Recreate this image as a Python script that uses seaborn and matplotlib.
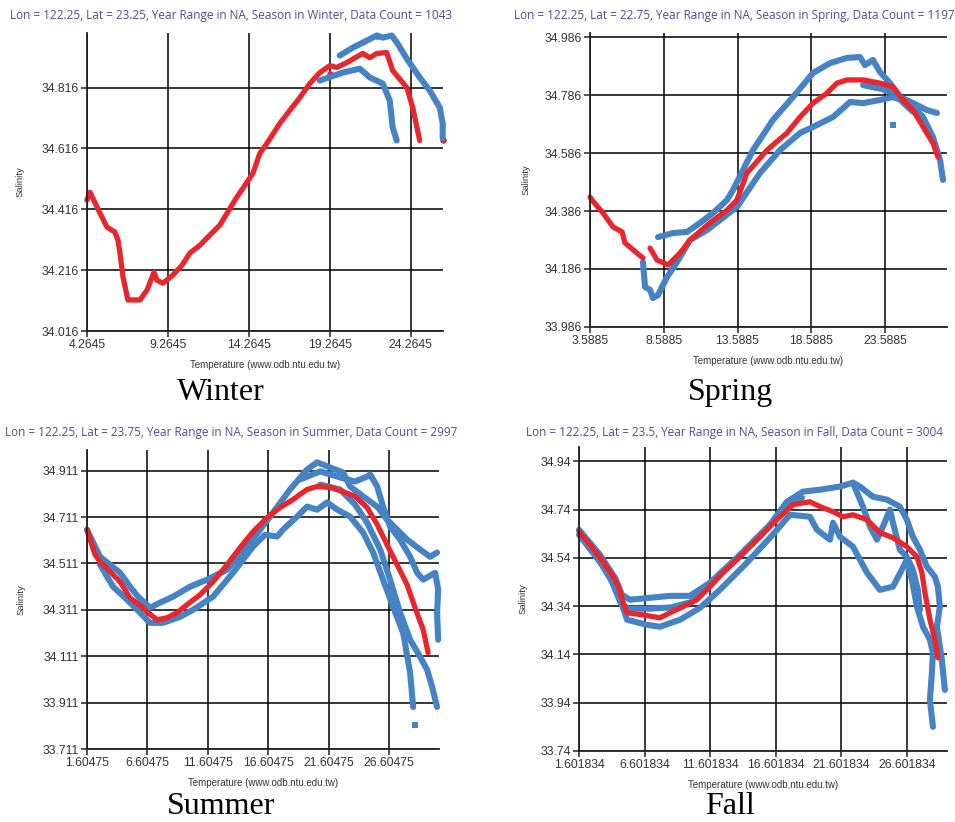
import matplotlib
matplotlib.use('Agg')
import pandas as pd
import matplotlib.pyplot as plt
import seaborn as sns

# Values: (temperature, salinity) pairs along each trace

# Winter
winter_red = [(4.26, 34.446), (4.45, 34.472), (5.07, 34.403), (5.50, 34.357), (5.99, 34.341),
              (6.18, 34.314), (6.30, 34.272), (6.49, 34.193), (6.79, 34.118), (7.53, 34.118),
              (7.97, 34.150), (8.40, 34.209), (8.58, 34.183), (8.95, 34.173), (9.57, 34.200),
              (10.13, 34.232), (10.62, 34.272), (11.24, 34.298), (11.85, 34.331), (12.47, 34.364),
              (13.40, 34.446), (14.51, 34.534), (14.94, 34.600), (15.37, 34.632), (16.17, 34.698),
              (16.79, 34.741), (17.41, 34.783), (18.02, 34.829), (18.64, 34.865), (19.26, 34.888),
              (19.69, 34.882), (20.31, 34.898), (21.29, 34.928), (21.73, 34.914), (22.16, 34.928),
              (22.77, 34.931), (23.14, 34.872), (24.01, 34.816), (24.38, 34.750), (24.81, 34.642)]
winter_red_dots = [(22.16, 34.985), (26.23, 34.642), (19.30, 34.860)]
winter_blue_a = [(18.64, 34.839), (20.06, 34.865), (21.11, 34.878), (21.73, 34.849), (22.53, 34.829),
                 (22.96, 34.773), (23.14, 34.685), (23.39, 34.642)]
winter_blue_b = [(19.87, 34.921), (20.68, 34.947), (21.54, 34.970), (22.16, 34.987), (22.53, 34.980),
                 (23.08, 34.987), (23.45, 34.960), (24.01, 34.911), (24.81, 34.849), (25.43, 34.806),
                 (26.05, 34.750), (26.23, 34.698), (26.23, 34.650)]

# Spring
spring_red_1 = [(3.59, 34.434), (3.72, 34.424), (4.47, 34.379), (5.15, 34.331), (5.76, 34.314),
                (5.96, 34.276), (6.77, 34.241), (7.18, 34.224)]
spring_red_2 = [(7.66, 34.258), (8.13, 34.217), (8.88, 34.200), (9.69, 34.241), (10.37, 34.286),
                (11.72, 34.345), (12.88, 34.389), (13.55, 34.424), (14.23, 34.517), (15.59, 34.596),
                (16.94, 34.655), (17.83, 34.710), (18.71, 34.758), (19.66, 34.793), (20.33, 34.827),
                (21.01, 34.838), (22.10, 34.838), (23.25, 34.827), (24.13, 34.814), (24.81, 34.769),
                (25.49, 34.734), (26.17, 34.676), (26.84, 34.620), (27.18, 34.572)]
spring_blue_a = [(7.18, 34.210), (7.32, 34.124), (7.66, 34.114), (7.86, 34.086), (8.20, 34.096),
                 (8.47, 34.124), (8.81, 34.158), (9.49, 34.210), (10.37, 34.286), (11.52, 34.320),
                 (12.40, 34.355), (13.55, 34.400), (15.11, 34.517), (16.47, 34.596), (17.83, 34.655),
                 (18.71, 34.676), (20.06, 34.710), (21.22, 34.762), (22.10, 34.758), (23.25, 34.769),
                 (24.13, 34.779), (25.28, 34.758), (26.17, 34.710), (26.84, 34.641), (27.32, 34.562),
                 (27.52, 34.493)]
spring_blue_b = [(8.20, 34.296), (9.22, 34.310), (10.17, 34.314), (11.05, 34.345), (11.93, 34.379),
                 (12.88, 34.424), (13.28, 34.458), (14.64, 34.596), (15.99, 34.700), (17.35, 34.779),
                 (18.71, 34.862), (19.86, 34.896), (21.01, 34.914), (21.89, 34.917), (22.23, 34.889),
                 (22.77, 34.907), (23.25, 34.865), (23.93, 34.827), (24.61, 34.779), (25.49, 34.758),
                 (26.44, 34.734), (27.11, 34.724)]
spring_blue_c = [(22.10, 34.820), (23.25, 34.808), (24.13, 34.795), (24.81, 34.760), (25.49, 34.728)]
spring_blue_dots = [(24.13, 34.683)]

# Summer
summer_red = [(1.60, 34.657), (2.27, 34.549), (2.68, 34.519), (3.51, 34.476), (4.34, 34.432),
              (5.16, 34.363), (6.24, 34.320), (6.57, 34.303), (7.40, 34.268), (8.23, 34.277),
              (9.06, 34.299), (9.88, 34.333), (10.96, 34.376), (12.04, 34.432), (13.20, 34.506),
              (14.27, 34.579), (15.35, 34.648), (16.51, 34.709), (17.59, 34.752), (18.66, 34.787),
              (19.82, 34.830), (20.65, 34.843), (21.72, 34.839), (22.80, 34.821), (23.79, 34.800),
              (24.79, 34.752), (25.62, 34.679), (26.44, 34.592), (27.27, 34.506), (28.10, 34.419),
              (28.76, 34.320), (29.43, 34.225), (29.84, 34.126)]
summer_blue_a = [(1.60, 34.657), (2.68, 34.540), (4.34, 34.471), (5.16, 34.411), (5.83, 34.368),
                 (6.82, 34.320), (7.65, 34.342), (8.73, 34.368), (10.13, 34.411), (11.54, 34.441),
                 (13.20, 34.484), (14.85, 34.584), (15.93, 34.657), (16.76, 34.713), (18.41, 34.830),
                 (19.82, 34.916), (20.65, 34.947), (21.72, 34.925), (22.80, 34.903), (23.38, 34.843),
                 (24.46, 34.800), (25.62, 34.756), (26.44, 34.700), (27.27, 34.657), (28.10, 34.614),
                 (29.18, 34.571), (30.00, 34.540), (30.58, 34.558)]
summer_blue_b = [(2.68, 34.506), (3.76, 34.411), (4.92, 34.355), (5.99, 34.299), (6.82, 34.255),
                 (7.90, 34.255), (9.31, 34.281), (10.38, 34.311), (12.04, 34.368), (13.69, 34.471),
                 (15.35, 34.584), (16.34, 34.635), (17.34, 34.627), (17.83, 34.657), (18.99, 34.713),
                 (19.82, 34.756), (20.65, 34.743), (21.48, 34.774), (22.31, 34.743), (23.38, 34.713),
                 (24.46, 34.644), (25.29, 34.558), (26.11, 34.441), (26.94, 34.324), (27.77, 34.212),
                 (28.35, 34.039), (28.60, 33.892)]
summer_blue_c = [(19.24, 34.873), (20.90, 34.908), (22.55, 34.882), (23.79, 34.864), (24.79, 34.886),
                 (25.04, 34.895), (25.62, 34.843), (26.11, 34.756), (26.69, 34.670), (27.52, 34.614),
                 (28.35, 34.540), (28.93, 34.471), (29.43, 34.441), (30.42, 34.471), (30.67, 34.398),
                 (30.58, 34.299), (30.67, 34.182)]
summer_blue_d = [(20.90, 34.851), (22.55, 34.830), (23.79, 34.765), (24.79, 34.687), (25.87, 34.571),
                 (26.69, 34.441), (27.52, 34.299), (28.35, 34.182), (29.18, 34.108), (29.76, 34.052),
                 (30.17, 33.979), (30.58, 33.892)]
summer_blue_dots = [(28.76, 33.815)]

# Fall
fall_red = [(1.60, 34.649), (2.44, 34.595), (3.20, 34.541), (4.12, 34.470), (4.57, 34.429),
            (4.95, 34.358), (5.26, 34.313), (6.48, 34.304), (7.77, 34.292), (8.54, 34.313),
            (9.53, 34.338), (10.59, 34.367), (11.58, 34.421), (12.57, 34.479), (13.64, 34.533),
            (14.63, 34.587), (15.39, 34.628), (16.69, 34.699), (17.91, 34.761), (19.20, 34.773),
            (19.97, 34.753), (20.96, 34.732), (21.72, 34.711), (22.48, 34.719), (23.55, 34.699),
            (24.54, 34.645), (25.53, 34.624), (26.59, 34.587), (27.36, 34.545), (27.74, 34.479),
            (27.97, 34.396), (28.35, 34.284), (28.73, 34.201), (28.96, 34.126)]
fall_blue_a = [(1.60, 34.657), (3.20, 34.553), (4.34, 34.458), (4.88, 34.387), (5.49, 34.367),
               (7.01, 34.375), (8.54, 34.383), (10.06, 34.383), (11.58, 34.437), (13.87, 34.553),
               (16.16, 34.678), (17.45, 34.773), (18.67, 34.815), (19.97, 34.823), (21.49, 34.836),
               (22.48, 34.852), (23.02, 34.836), (24.00, 34.794), (25.07, 34.782), (26.06, 34.753),
               (26.59, 34.699), (27.05, 34.628), (27.59, 34.574), (28.12, 34.504), (28.73, 34.462),
               (28.96, 34.421), (29.11, 34.338), (28.88, 34.255), (29.26, 34.118), (29.49, 33.993)]
fall_blue_b = [(1.60, 34.636), (3.20, 34.524), (4.50, 34.408), (5.26, 34.284), (6.78, 34.263),
               (7.77, 34.255), (9.30, 34.284), (10.82, 34.333), (12.34, 34.408), (14.25, 34.512),
               (16.16, 34.624), (17.68, 34.719), (19.20, 34.711), (19.74, 34.657), (20.73, 34.616),
               (20.96, 34.686), (21.49, 34.628), (22.48, 34.587), (23.55, 34.479), (24.54, 34.408),
               (25.53, 34.421), (26.21, 34.491), (26.59, 34.533), (26.97, 34.450), (27.36, 34.338),
               (27.82, 34.255), (28.35, 34.201), (28.58, 34.147), (28.50, 34.064), (28.35, 33.952),
               (28.58, 33.840)]
fall_blue_c = [(22.48, 34.852), (23.24, 34.753), (23.78, 34.670), (24.31, 34.616), (24.77, 34.670),
               (25.30, 34.740), (25.53, 34.686), (26.06, 34.574), (26.59, 34.545), (27.05, 34.491),
               (27.43, 34.408), (27.59, 34.325)]
fall_blue_d = [(2.40, 34.585), (3.90, 34.470), (4.80, 34.350), (5.40, 34.330), (7.00, 34.330),
               (8.60, 34.335), (10.20, 34.358), (11.40, 34.418), (13.20, 34.515), (15.40, 34.630),
               (17.20, 34.740), (18.60, 34.790)]

# Axis ticks and labels
winter_xticks = [4.2645, 9.2645, 14.2645, 19.2645, 24.2645]
winter_yticks = [34.016, 34.216, 34.416, 34.616, 34.816]
spring_xticks = [3.5885, 8.5885, 13.5885, 18.5885, 23.5885]
spring_yticks = [33.986, 34.186, 34.386, 34.586, 34.786, 34.986]
summer_xticks = [1.60475, 6.60475, 11.60475, 16.60475, 21.60475, 26.60475]
summer_yticks = [33.711, 33.911, 34.111, 34.311, 34.511, 34.711, 34.911]
fall_xticks = [1.601834, 6.601834, 11.601834, 16.601834, 21.601834, 26.601834]
fall_yticks = [33.74, 33.94, 34.14, 34.34, 34.54, 34.74, 34.94]

winter_title = 'Lon = 122.25, Lat = 23.25, Year Range in NA, Season in Winter, Data Count = 1043'
spring_title = 'Lon = 122.25, Lat = 22.75, Year Range in NA, Season in Spring, Data Count = 1197'
summer_title = 'Lon = 122.25, Lat = 23.75, Year Range in NA, Season in Summer, Data Count = 2997'
fall_title = 'Lon = 122.25, Lat = 23.5, Year Range in NA, Season in Fall, Data Count = 3004'

BLUE = '#4683c5'
RED = '#e8262b'
TITLE_C = '#4b4c95'

sns.set_theme(style='white')
plt.rcParams['font.family'] = ['Liberation Sans', 'DejaVu Sans']


def to_frame(traces):
    rows = []
    for k, tr in enumerate(traces):
        for t, s in tr:
            rows.append((k, t, s))
    return pd.DataFrame(rows, columns=['trace', 'T', 'S'])


def draw(ax, blue, red, blue_dots, red_dots, xticks, yticks, xlim, ylim, pad_y):
    line_kw = dict(estimator=None, sort=False, legend=False, ax=ax,
                   solid_capstyle='round', solid_joinstyle='round', clip_on=False)
    sns.lineplot(data=to_frame(blue), x='T', y='S', units='trace', color=BLUE, lw=4.4, **line_kw)
    if blue_dots:
        d = pd.DataFrame(blue_dots, columns=['T', 'S'])
        sns.scatterplot(data=d, x='T', y='S', color=BLUE, marker='s', s=20, lw=0, ax=ax, clip_on=False)
    sns.lineplot(data=to_frame(red), x='T', y='S', units='trace', color=RED, lw=3.8, **line_kw)
    if red_dots:
        d = pd.DataFrame(red_dots, columns=['T', 'S'])
        sns.scatterplot(data=d, x='T', y='S', color=RED, marker='o', s=22, lw=0, ax=ax, clip_on=False)

    ax.set_xlim(*xlim)
    ax.set_ylim(*ylim)
    ax.set_xticks(xticks)
    ax.set_yticks(yticks)
    ax.set_xticklabels([str(v) for v in xticks])
    ax.set_yticklabels([str(v) for v in yticks])
    ax.grid(True, color='black', lw=1.1)
    ax.set_axisbelow(True)
    for side in ['top', 'right']:
        ax.spines[side].set_visible(False)
    for side in ['left', 'bottom']:
        ax.spines[side].set_color('#222222')
        ax.spines[side].set_linewidth(1.3)
    ax.tick_params(direction='out', length=4, width=1.1, color='#222222',
                   labelsize=8.8, labelcolor='#333333', pad=2, left=True, bottom=True)
    ax.set_xlabel('Temperature (www.odb.ntu.edu.tw)', fontsize=7, color='#333333', labelpad=6)
    ax.set_ylabel('Salinity', fontsize=6.8, color='#333333', labelpad=pad_y)


fig = plt.figure(figsize=(9.55, 8.22), dpi=100)

ax1 = fig.add_axes([0.0911, 0.5973, 0.3728, 0.3625])
draw(ax1, [winter_blue_a, winter_blue_b], [winter_red], None, winter_red_dots,
     winter_xticks, winter_yticks, (4.2645, 26.25), (34.016, 34.995), 12)

ax2 = fig.add_axes([0.6178, 0.6022, 0.3738, 0.3577])
draw(ax2, [spring_blue_a, spring_blue_b, spring_blue_c], [spring_red_1, spring_red_2],
     spring_blue_dots, None, spring_xticks, spring_yticks, (3.5885, 27.79), (33.986, 35.0), 10)

ax3 = fig.add_axes([0.0911, 0.0888, 0.3686, 0.3637])
draw(ax3, [summer_blue_a, summer_blue_b, summer_blue_c, summer_blue_d], [summer_red],
     summer_blue_dots, None, summer_xticks, summer_yticks, (1.60475, 30.74), (33.711, 35.0), 12)

ax4 = fig.add_axes([0.6063, 0.0864, 0.3853, 0.3698])
draw(ax4, [fall_blue_a, fall_blue_b, fall_blue_c, fall_blue_d], [fall_red], None, None,
     fall_xticks, fall_yticks, (1.601834, 29.65), (33.74, 35.0), 9)

W, H = 955, 822
title_kw = dict(ha='center', va='center', color=TITLE_C, fontsize=8.5, family=['Open Sans', 'DejaVu Sans'])
fig.text(231 / W, 1 - 15 / H, winter_title, **title_kw)
fig.text(734 / W, 1 - 15 / H, spring_title, **title_kw)
fig.text(231 / W, 1 - 432 / H, summer_title, **title_kw)
fig.text(734 / W, 1 - 432 / H, fall_title, **title_kw)

season_kw = dict(ha='center', va='center', color='black', fontsize=23,
                 family=['Liberation Serif', 'DejaVu Serif'])
fig.text(221 / W, 1 - 392 / H, 'Winter', **season_kw)
fig.text(730 / W, 1 - 392 / H, 'Spring', **season_kw)
fig.text(221 / W, 1 - 806 / H, 'Summer', **season_kw)
fig.text(730 / W, 1 - 806 / H, 'Fall', **season_kw)

fig.savefig('out.png', dpi=100, facecolor='white')
